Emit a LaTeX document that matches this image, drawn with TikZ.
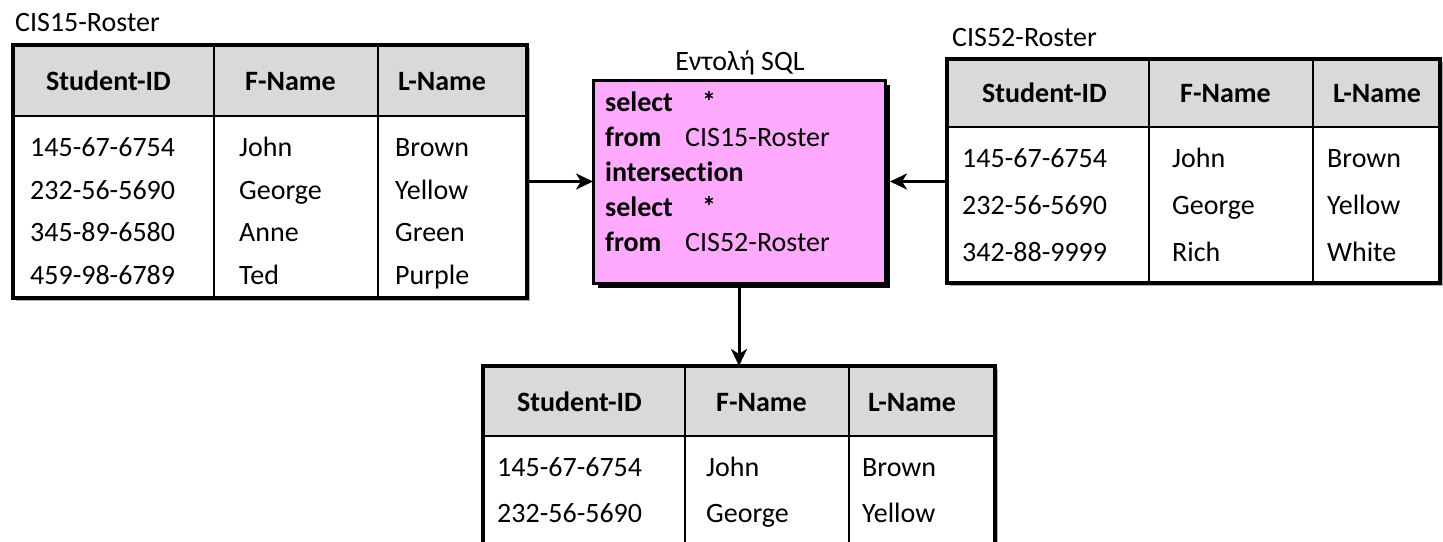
\documentclass[tikz,border=0pt]{standalone}
\usepackage{fontspec}
\setmainfont{Carlito}[Ligatures=NoCommon]
\usetikzlibrary{arrows.meta}

\definecolor{headgrey}{RGB}{217,217,217}
\definecolor{sqlpink}{RGB}{255,170,255}
\definecolor{shadowgrey}{RGB}{175,175,175}

\tikzset{
  tablenode/.style={fill=white, inner sep=0pt, outer sep=0pt},
  gridline/.style={line width=2.6pt},
  frameline/.style={line width=3.2pt},
  cell/.style={anchor=base west, inner sep=0pt, font=\fontsize{28}{32}\selectfont},
  headcell/.style={cell, font=\fontsize{28}{32}\selectfont\bfseries},
  caption/.style={inner sep=0pt, font=\fontsize{28}{32}\selectfont},
  sqlbox/.style={draw, line width=3pt, fill=sqlpink, inner sep=0pt, outer sep=0pt},
  flow/.style={line width=3pt, -{Stealth[length=17pt,width=16pt,inset=5pt]}},
}

% a roster table: name, column edges x0 x1 x2 x3, top, header bottom, bottom
\newcommand\rostertable[8]{%
  \fill[shadowgrey] ({#2+3},{#6+3}) rectangle ({#5+3},{#8+3});
  \node[tablenode, anchor=north west, minimum width={#5-#2}, minimum height={#8-#6}] (#1) at (#2,#6) {};
  \fill[headgrey] (#2,#6) rectangle (#5,#7);
  \draw[gridline] (#2,#7) -- (#5,#7) (#3,#6) -- (#3,#8) (#4,#6) -- (#4,#8);
  \draw[frameline] (#2,#6) rectangle (#5,#8);
}

\begin{document}
\begin{tikzpicture}[x=1pt,y=-1pt]
\useasboundingbox (0,0) rectangle (1443,541);
\clip (0,0) rectangle (1443,541);
\fill[white] (0,0) rectangle (1443,541);

% CIS15-Roster
\node[caption, anchor=base west] (cap15) at (15,31) {CIS15-Roster};
\rostertable{t15}{13}{214}{378}{527}{45}{116}{298}
\node[headcell] (t15h1) at (46,90) {Student-ID};
\node[headcell] (t15h2) at (245,90) {F-Name};
\node[headcell] (t15h3) at (398,90) {L-Name};
\node[cell] (t15a1) at (30,156) {145-67-6754};
\node[cell] (t15a2) at (239,156) {John};
\node[cell] (t15a3) at (395,156) {Brown};
\node[cell] (t15b1) at (30,199) {232-56-5690};
\node[cell] (t15b2) at (239,199) {George};
\node[cell] (t15b3) at (395,199) {Yellow};
\node[cell] (t15c1) at (30,241) {345-89-6580};
\node[cell] (t15c2) at (239,241) {Anne};
\node[cell] (t15c3) at (395,241) {Green};
\node[cell] (t15d1) at (30,284) {459-98-6789};
\node[cell] (t15d2) at (239,284) {Ted};
\node[cell] (t15d3) at (395,284) {Purple};

% CIS52-Roster
\node[caption, anchor=base west] (cap52) at (952,46) {CIS52-Roster};
\rostertable{t52}{947}{1149}{1313}{1440}{59}{127}{283}
\node[headcell] (t52h1) at (982,102) {Student-ID};
\node[headcell] (t52h2) at (1180,102) {F-Name};
\node[headcell] (t52h3) at (1333,102) {L-Name};
\node[cell] (t52a1) at (962,167) {145-67-6754};
\node[cell] (t52a2) at (1172,167) {John};
\node[cell] (t52a3) at (1327,167) {Brown};
\node[cell] (t52b1) at (962,214) {232-56-5690};
\node[cell] (t52b2) at (1172,214) {George};
\node[cell] (t52b3) at (1327,214) {Yellow};
\node[cell] (t52c1) at (962,261) {342-88-9999};
\node[cell] (t52c2) at (1172,261) {Rich};
\node[cell] (t52c3) at (1327,261) {White};

% SQL statement box with its drop shadow
\fill[black] (598,85) rectangle (890,288);
\node[sqlbox, anchor=north west, minimum width=292, minimum height=203] (sql) at (593,80) {};
\coordinate (sqlshadowE) at ([xshift=5pt]sql.east);
\coordinate (sqlshadowS) at ([yshift=-5pt]sql.south);
\node[caption, anchor=base] (sqltitle) at (740,70) {Εντολή SQL};
\node[headcell] (k1) at (605,111) {select};
\node[headcell] (k1s) at (702,111) {*};
\node[headcell] (k2) at (605,146) {from};
\node[cell] (k2t) at (685,146) {CIS15-Roster};
\node[headcell] (k3) at (605,181) {intersection};
\node[headcell] (k4) at (605,216) {select};
\node[headcell] (k4s) at (702,216) {*};
\node[headcell] (k5) at (605,251) {from};
\node[cell] (k5t) at (685,251) {CIS52-Roster};

% result table
\rostertable{tres}{483}{685}{849}{995}{366}{436}{600}
\node[headcell] (rh1) at (517,411) {Student-ID};
\node[headcell] (rh2) at (716,411) {F-Name};
\node[headcell] (rh3) at (868,411) {L-Name};
\node[cell] (ra1) at (497,476) {145-67-6754};
\node[cell] (ra2) at (706,476) {John};
\node[cell] (ra3) at (862,476) {Brown};
\node[cell] (rb1) at (497,522) {232-56-5690};
\node[cell] (rb2) at (706,522) {George};
\node[cell] (rb3) at (862,522) {Yellow};

% connectors
\draw[flow] (sql.west -| t15.east) -- (sql.west);
\draw[flow] (sql.east -| t52.west) -- (sqlshadowE);
\draw[flow] (sqlshadowS) -- (sql.south |- tres.north);
\end{tikzpicture}
\end{document}
